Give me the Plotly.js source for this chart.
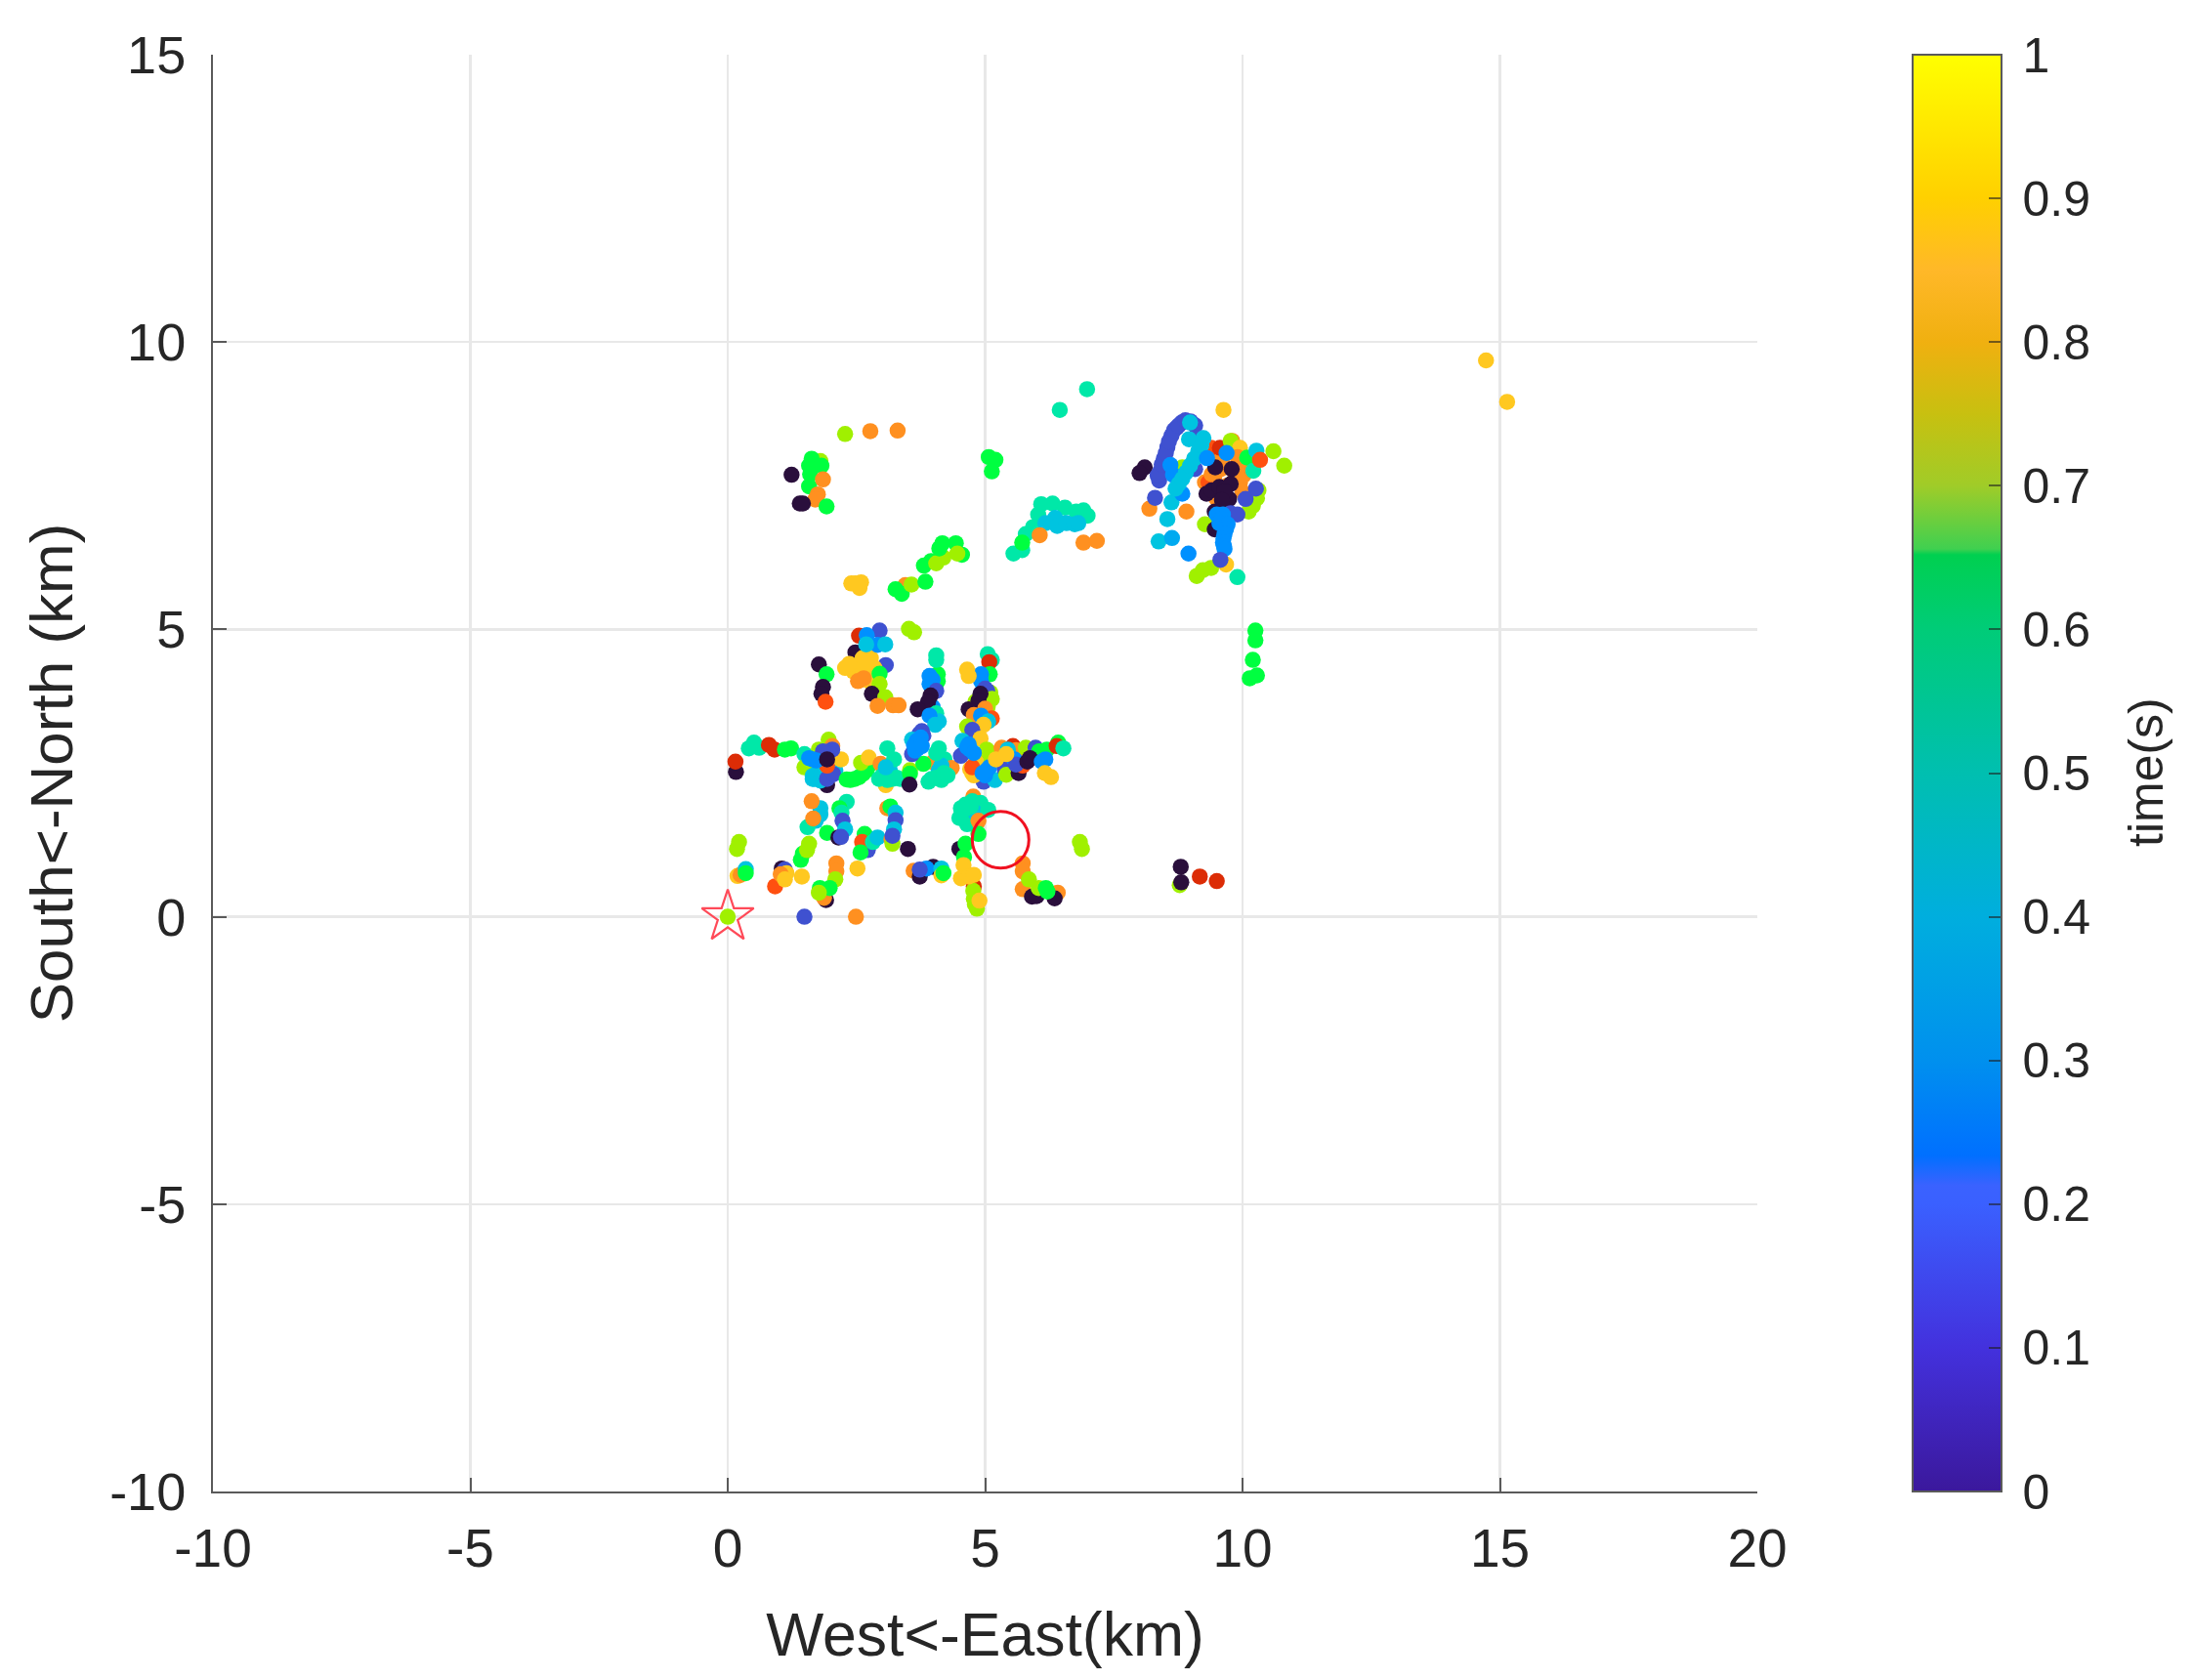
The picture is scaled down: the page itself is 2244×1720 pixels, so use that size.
<!DOCTYPE html>
<html>
<head>
<meta charset="utf-8">
<script src="https://cdn.plot.ly/plotly-3.0.1.min.js"></script>
<style>html,body{margin:0;padding:0;background:#fff}#chart{width:2244px;height:1720px;filter:blur(0.6px)}</style>
</head>
<body>
<div id="chart"></div>
<script>
// time codes: plum .02, indigo .12, blue .28, cyan .42, teal .55,
// green .63, lime .7, orange .8, gold .87, orange-red .93, red .97
const nwX=[2.28,2.77,3.30,1.80,1.63,1.58,1.82,1.60,1.58,1.85,1.75,1.70,1.24,1.40,1.46,1.92];
const nwY=[8.40,8.45,8.46,7.93,7.97,7.85,7.85,7.70,7.49,7.61,7.35,7.26,7.69,7.19,7.19,7.14];
const nwT=[.7,.8,.8,.7,.63,.63,.63,.63,.63,.8,.8,.8,.02,.02,.02,.63];

const midX=[2.40,2.59,2.56,2.48,3.45,3.26,3.38,3.57,3.84,3.81,3.95,4.05,4.19,4.17,4.11,4.43,4.55,4.46,3.52,3.62,5.07,5.20,5.13,6.45,6.98];
const midY=[5.80,5.82,5.72,5.80,5.77,5.70,5.62,5.78,5.83,6.11,6.19,6.15,6.25,6.50,6.41,6.50,6.30,6.32,5.01,4.95,8.00,7.95,7.75,8.82,9.18];
const midT=[.87,.87,.87,.87,.8,.63,.63,.7,.63,.63,.63,.7,.7,.63,.63,.63,.63,.7,.7,.7,.63,.63,.63,.55,.55];

const arcX=[5.55,5.72,5.79,5.93,6.03,6.09,6.31,6.55,6.77,6.91,6.99,5.72,6.17,6.36,6.40,6.58,6.74,6.81,6.06,6.91,7.17];
const arcY=[6.32,6.38,6.66,6.78,7.00,7.18,7.19,7.12,7.05,7.07,6.98,6.51,6.85,6.94,6.80,6.85,6.83,6.85,6.64,6.51,6.54];
const arcT=[.55,.55,.55,.55,.55,.55,.55,.55,.55,.55,.55,.63,.42,.42,.42,.42,.42,.42,.8,.8,.8];

const farX=[14.73,15.14,10.25,10.25,10.20,10.14,10.28,8.78,8.81,8.80,9.17,9.50];
const farY=[9.68,8.96,4.98,4.81,4.47,4.15,4.20,.55,.60,.87,.70,.62];
const farT=[.87,.87,.63,.63,.63,.63,.63,.7,.02,.02,.97,.97];

const neFillX=[9.45,9.60,9.85,9.70,9.45,10.10,9.95,8.40,8.47,8.54,8.62,8.72,8.82,8.99];
const neFillY=[7.65,7.90,7.60,8.10,7.95,7.80,7.55,7.75,7.97,8.17,8.37,8.51,8.60,8.62];
const neFillT=[.8,.8,.8,.8,.8,.8,.8,.12,.12,.12,.12,.12,.12,.12];

const neX=[9.63,8.83,9.11,9.23,9.39,9.68,10.12,10.20,10.28,10.31,9.27,10.60,10.81,9.90,9.39,9.56,9.80,9.77,9.95,9.93,10.02,9.80,9.27,9.49,10.00,9.34,9.58,9.70,9.40,9.90,10.09,10.21,10.27,10.34,8.19,8.91,8.10,8.00,8.38,8.35,8.43,8.51,8.57,8.67,8.76,8.89,9.08,9.17,9.08,8.60,8.65,8.30,8.62,8.54,8.37,8.63,8.95,8.83,8.98,8.96,8.70,8.76,8.83,8.90,8.98,9.06,9.14,9.20,9.24,10.26,10.06,9.47,9.79,9.30,9.40,9.55,9.65,9.77,9.74,9.46,9.46,9.65,9.60,9.31,9.69,9.77,9.90,9.62,9.50,9.58,9.55,9.71,9.68,9.65,9.63,9.62,9.64,9.65,9.57];
const neY=[8.82,7.82,5.93,6.03,6.07,6.13,7.05,7.15,7.28,7.42,6.83,8.10,7.85,5.91,8.16,8.16,8.28,8.28,8.16,7.90,7.68,7.79,7.56,7.28,7.39,7.56,7.79,7.50,7.70,8.00,7.99,7.76,8.11,7.95,7.10,7.05,7.82,7.72,7.59,7.68,7.87,8.07,8.27,8.47,8.55,8.64,8.55,8.33,7.79,7.86,7.69,7.29,7.21,6.92,6.53,6.59,6.32,7.36,8.60,8.31,7.45,7.53,7.62,7.73,7.85,7.97,8.10,8.20,8.33,7.45,7.27,7.82,7.79,7.36,7.42,7.48,7.45,7.53,7.27,7.05,6.74,7.40,7.25,7.98,8.07,7.02,7.00,7.00,7.00,6.92,6.85,6.83,6.75,6.66,6.58,6.51,6.45,6.40,6.21];
const neT=[.87,.7,.7,.7,.7,.87,.7,.7,.7,.7,.7,.7,.7,.55,.93,.97,.8,.7,.87,.8,.8,.8,.8,.8,.8,.93,.8,.8,.8,.8,.63,.55,.42,.93,.8,.8,.02,.02,.12,.12,.12,.12,.12,.12,.12,.12,.12,.12,.12,.28,.28,.12,.42,.42,.42,.35,.28,.28,.42,.42,.42,.42,.42,.42,.42,.42,.42,.42,.42,.12,.12,.02,.02,.02,.02,.02,.02,.02,.02,.02,.02,.02,.02,.28,.28,.12,.12,.28,.28,.28,.28,.28,.28,.28,.28,.28,.28,.28,.12];

const swX=[1.49,2.49,.22,.18,.19,.25,.35,.35,.92,1.05,1.11,1.14,1.03,1.11,1.44,1.42,1.46,1.54,1.58,2.11,2.11,2.09,1.91,1.87,1.98,1.79,1.77,2.52,3.50,4.50];
const swY=[0,0,1.30,1.18,.71,.73,.83,.76,.53,.84,.82,.76,.74,.65,.70,.99,1.10,1.16,1.27,.93,.79,.65,.29,.33,.50,.50,.42,.84,1.18,1.18];
const swT=[.12,.8,.7,.7,.87,.8,.42,.63,.93,.02,.12,.87,.8,.87,.87,.63,.63,.7,.7,.8,.8,.7,.02,.8,.63,.63,.7,.87,.02,.02];

const southX=[3.61,3.73,3.99,3.86,3.73,4.15,4.15,4.19,4.78,4.77,4.78,4.84,4.80,4.89,5.73,5.73,5.73,5.85,6.41,5.91,6.00,6.35,6.04,6.18,6.21,6.84,6.88];
const southY=[.80,.70,.87,.84,.82,.84,.72,.76,.53,.45,.31,.14,.22,.28,.93,.79,.48,.65,.42,.35,.36,.32,.50,.50,.44,1.30,1.18];
const southT=[.8,.02,.02,.28,.12,.42,.87,.63,.97,.7,.7,.7,.7,.87,.8,.8,.8,.7,.8,.02,.02,.02,.7,.63,.63,.7,.7];

const ringX=[4.77,4.62,4.59,4.65,4.91,4.75,4.53,4.70,4.81,5.06,4.87,4.87,4.62,4.59,4.58,4.53,4.68,4.78,4.72,4.50,4.60];
const ringY=[2.09,1.95,1.78,1.61,1.98,2.01,1.89,1.75,1.81,1.86,1.67,1.44,1.27,1.04,.90,.67,.70,.73,1.92,1.72,1.87];
const ringT=[.8,.55,.55,.55,.55,.55,.55,.55,.42,.55,.8,.63,.63,.63,.87,.87,.87,.87,.55,.55,.55];

const lowX=[1.80,1.80,1.71,1.55,1.63,1.66,2.31,2.17,2.21,2.23,2.28,1.93,2.15,2.20,2.72,2.66,2.61,2.82,2.91,2.58,3.10,3.16,3.26,3.26,3.18,3.20,3.23,3.20];
const lowY=[1.89,1.78,1.67,1.56,2.01,1.71,2.00,1.89,1.81,1.67,1.52,1.46,1.38,1.39,1.16,1.44,1.30,1.30,1.38,1.12,1.89,1.92,1.81,1.68,1.35,1.27,1.52,1.41];
const lowT=[.42,.42,.42,.55,.8,.8,.55,.63,.55,.12,.42,.63,.02,.12,.12,.63,.93,.55,.42,.63,.8,.63,.42,.12,.8,.7,.42,.12];

const bandX=[.16,.15,.41,.61,.51,.80,.91,1.11,1.23,1.49,1.96,2.03,1.49,1.77,1.93,1.93,1.65,1.65,1.68,1.72,1.80,1.80,1.92,2.05,2.09,1.93,2.05,1.96,1.93,2.20,2.03,1.85,1.58,1.65,1.72,1.93,2.31,2.38,2.47,2.55,2.63,2.70,2.77,2.59,2.74,3.07,2.97,3.15,3.10,3.23,2.94,3.00,3.10,3.20,3.28,3.05,3.07,3.35,3.54,3.54,3.53,4.10,4.21,3.99,4.35,3.80,4.10,4.15,3.90,3.96,4.05,4.15,4.20,4.27,4.05];
const bandY=[2.52,2.70,2.93,2.94,3.03,2.99,2.91,2.91,2.93,2.83,3.08,2.97,2.60,2.91,2.29,2.74,2.40,2.45,2.40,2.48,2.43,2.37,2.42,2.52,2.55,2.40,2.48,2.86,2.63,2.74,2.91,2.88,2.76,2.74,2.72,2.74,2.39,2.38,2.40,2.43,2.49,2.55,2.66,2.68,2.77,2.29,2.66,2.55,2.93,2.74,2.40,2.45,2.38,2.40,2.42,2.45,2.60,2.40,2.55,2.49,2.30,2.93,2.74,2.69,2.59,2.66,2.55,2.63,2.35,2.40,2.42,2.38,2.50,2.46,2.85];
const bandT=[.02,.97,.55,.55,.55,.97,.97,.63,.63,.55,.7,.8,.7,.7,.02,.87,.42,.42,.42,.42,.42,.42,.42,.42,.42,.12,.12,.02,.93,.87,.12,.12,.28,.28,.28,.02,.63,.63,.63,.63,.63,.63,.63,.7,.87,.87,.8,.42,.55,.55,.55,.55,.55,.55,.55,.55,.42,.55,.7,.63,.02,.55,.55,.8,.8,.63,.42,.42,.55,.55,.55,.55,.55,.55,.55];

const colAX=[4.08,4.08,4.05,4.05,3.92,3.98,3.92,3.98,4.05,3.94,3.89,3.69,4.05,4.10,3.92,4.03,3.77,3.72,3.80,3.58,3.58,3.64,3.62,3.68,3.67,3.70,3.75,3.77];
const colAY=[4.22,4.10,4.55,4.47,4.19,4.12,4.05,3.65,3.93,3.85,3.74,3.61,3.54,3.40,3.50,3.34,3.23,3.18,3.15,3.08,2.83,2.89,2.98,2.92,3.06,3.00,3.12,2.97];
const colAT=[.63,.63,.55,.55,.28,.28,.28,.28,.12,.02,.02,.02,.55,.42,.28,.42,.12,.12,.12,.42,.12,.28,.28,.28,.28,.28,.28,.28];

const colBX=[5.05,5.13,5.08,5.09,4.92,4.92,4.65,4.68,5.10,5.05,4.75,5.04,5.00,4.81,5.13,4.95,4.91,4.87,4.68,5.00,4.78,5.13,4.92,5.06,4.97,4.65,4.75,4.91];
const colBY=[4.57,4.47,4.43,4.22,4.22,4.10,4.30,4.19,3.90,3.65,3.60,3.93,3.97,3.74,3.79,3.55,3.88,3.76,3.61,3.62,3.51,3.45,3.50,3.40,3.34,3.31,3.25,3.10];
const colBT=[.55,.55,.97,.63,.28,.28,.87,.87,.7,.7,.7,.12,.12,.7,.7,.8,.02,.02,.02,.8,.8,.93,.28,.42,.87,.7,.12,.87];

const eastX=[4.56,4.53,4.71,5.03,5.22,5.00,5.10,4.97,5.19,5.00,4.78,4.71,4.75,4.82,4.75,5.03,5.38,5.41,5.65,5.32,5.54,5.60,5.90,5.44,5.45,5.73,5.57,5.60,4.65,4.68,4.78,5.08,4.95,5.21,5.41,5.79,5.98,6.42,6.05,6.20,6.39,6.52,5.82,5.87,6.10,6.17,6.16,6.28];
const eastY=[3.06,2.80,2.91,2.91,2.80,2.75,2.85,2.35,2.38,2.46,2.46,2.57,2.50,2.70,2.60,2.55,2.57,2.47,2.50,2.94,2.97,2.90,2.85,2.91,2.85,2.63,2.74,2.65,2.95,3.00,2.85,2.60,2.50,2.74,2.83,2.94,2.94,3.03,2.88,2.91,2.97,2.93,2.70,2.76,2.70,2.74,2.50,2.43];
const eastT=[.42,.12,.28,.7,.7,.7,.7,.12,.42,.28,.87,.87,.87,.87,.93,.28,.12,.7,.02,.8,.97,.8,.8,.42,.42,.93,.28,.12,.28,.28,.28,.28,.28,.87,.87,.7,.12,.63,.63,.63,.97,.55,.02,.02,.28,.28,.87,.87];

const hubX=[1.77,1.92,1.85,1.82,1.90,2.95,2.55,2.70,2.48,3.07,2.28,2.44,2.62,2.78,2.59,2.85,2.75,2.36,2.70,2.53,2.64,2.95,2.95,2.80,3.06,2.91,3.21,3.32,2.91,2.69,3.06];
const hubY=[4.39,4.22,4.00,3.88,3.74,4.98,4.89,4.90,4.60,4.38,4.33,4.27,4.50,4.50,4.30,4.33,4.10,4.40,4.40,4.10,4.15,4.23,4.05,3.88,3.82,3.67,3.68,3.68,4.73,4.74,4.74];
const hubT=[.02,.63,.02,.02,.93,.12,.97,.28,.02,.12,.87,.87,.87,.87,.87,.87,.87,.87,.87,.8,.8,.63,.7,.02,.7,.8,.8,.8,.28,.42,.42];

const originX=[0], originY=[0], originT=[.7];
const circleX=[5.30], circleY=[1.34];

const timeBar=[0,1];
const pointScale=[[0,'#2a0f3c'],[.05,'#2a0f3c'],[.12,'#3f51d0'],[.28,'#0090ff'],[.42,'#00c4e0'],[.55,'#00e8a8'],[.63,'#00ff40'],[.7,'#a0f000'],[.8,'#ff9020'],[.87,'#ffc820'],[.93,'#ff5010'],[.97,'#dc2c06'],[1,'#dc2c06']];
const barScale=[[0,'#3b189c'],[.1,'#4331dd'],[.2,'#3a60ff'],[.213,'#3a62ff'],[.234,'#0070ff'],[.3,'#0090ee'],[.4,'#00aede'],[.5,'#00bfb0'],[.6,'#00cc78'],[.652,'#00d050'],[.656,'#40d050'],[.7,'#a0cc28'],[.75,'#c8c010'],[.8,'#f0b010'],[.85,'#ffb828'],[.9,'#ffd000'],[1,'#ffff00']];

const xTickVals=[-10,-5,0,5,10,15,20], xTickText=['-10','-5','0','5','10','15','20'];
const yTickVals=[-10,-5,0,5,10,15], yTickText=['-10','-5','0','5','10','15'];
const barTickVals=[0,.1,.2,.3,.4,.5,.6,.7,.8,.9,1], barTickText=['0','0.1','0.2','0.3','0.4','0.5','0.6','0.7','0.8','0.9','1'];

const allX=[].concat(nwX,midX,arcX,farX,neFillX,neX,swX,southX,ringX,lowX,bandX,colAX,colBX,eastX,hubX,originX);
const allY=[].concat(nwY,midY,arcY,farY,neFillY,neY,swY,southY,ringY,lowY,bandY,colAY,colBY,eastY,hubY,originY);
const allT=[].concat(nwT,midT,arcT,farT,neFillT,neT,swT,southT,ringT,lowT,bandT,colAT,colBT,eastT,hubT,originT);

const FONT='"Liberation Sans", Arial, sans-serif', INK='#262626', AXIS='#5a5a5a', GRID='#e8e8e8';

const traces=[
 {type:'scatter',mode:'markers',x:allX,y:allY,hoverinfo:'skip',showlegend:false,
  marker:{size:16.5,color:allT,cmin:0,cmax:1,colorscale:pointScale,showscale:false,line:{width:0}}},
 {type:'scatter',mode:'markers',x:originX,y:originY,hoverinfo:'skip',showlegend:false,
  marker:{symbol:'star-open',size:40,color:'#ff4a58',line:{width:2.2,color:'#ff4a58'}}},
 {type:'scatter',mode:'markers',x:circleX,y:circleY,hoverinfo:'skip',showlegend:false,
  marker:{symbol:'circle-open',size:58,color:'#f01020',line:{width:3,color:'#f01020'}}},
 {type:'scatter',mode:'markers',x:[0,0],y:[0,0],hoverinfo:'skip',showlegend:false,
  marker:{size:1,opacity:0,color:timeBar,cmin:0,cmax:1,colorscale:barScale,showscale:true,
   colorbar:{x:(1958-218)/1581,xanchor:'left',y:1,yanchor:'top',
    lenmode:'fraction',len:1,thicknessmode:'pixels',thickness:91,xpad:0,ypad:0,
    outlinewidth:2,outlinecolor:AXIS,borderwidth:0,
    tickmode:'array',tickvals:barTickVals,ticktext:barTickText,ticks:'inside',ticklen:14,tickwidth:2,tickcolor:'rgba(30,30,30,.6)',
    tickfont:{family:FONT,size:50,color:INK},ticklabelposition:'outside'}}}
];

const layout={
 width:2244,height:1720,paper_bgcolor:'#fff',plot_bgcolor:'#fff',showlegend:false,
 margin:{l:218,r:445,t:56,b:193,autoexpand:false},
 font:{family:FONT,size:50,color:INK},
 xaxis:{range:[-10,20],tickmode:'array',tickvals:xTickVals,ticktext:xTickText,ticks:'inside',ticklen:14,tickwidth:2,tickcolor:AXIS,
  showgrid:true,gridcolor:GRID,gridwidth:2.5,zeroline:false,showline:true,linecolor:AXIS,linewidth:2,
  tickfont:{family:FONT,size:55,color:INK},ticklabelstandoff:9,
  title:{text:'West&lt;-East(km)',font:{family:FONT,size:62.5,color:INK},standoff:36}},
 yaxis:{range:[-10,15],tickmode:'array',tickvals:yTickVals,ticktext:yTickText,ticks:'inside',ticklen:14,tickwidth:2,tickcolor:AXIS,
  showgrid:true,gridcolor:GRID,gridwidth:2.5,zeroline:false,showline:true,linecolor:AXIS,linewidth:2,
  tickfont:{family:FONT,size:54,color:INK},ticklabelstandoff:15,
  title:{text:'South&lt;-North (km)',font:{family:FONT,size:62,color:INK},standoff:17}},
 annotations:[{xref:'paper',yref:'paper',x:(2197-218)/1581,y:(1527-791)/1471,text:'time(s)',textangle:-90,showarrow:false,
  xanchor:'center',yanchor:'middle',font:{family:FONT,size:50,color:INK}}]
};
Plotly.newPlot('chart',traces,layout,{displayModeBar:false,staticPlot:true}).then(function(){
  // the bar's labels sit a little further from its edge than Plotly's fixed pad
  document.querySelectorAll('.colorbar text').forEach(function(t){
    t.setAttribute('x',parseFloat(t.getAttribute('x')||0)+10);
  });
});
</script>
</body>
</html>
